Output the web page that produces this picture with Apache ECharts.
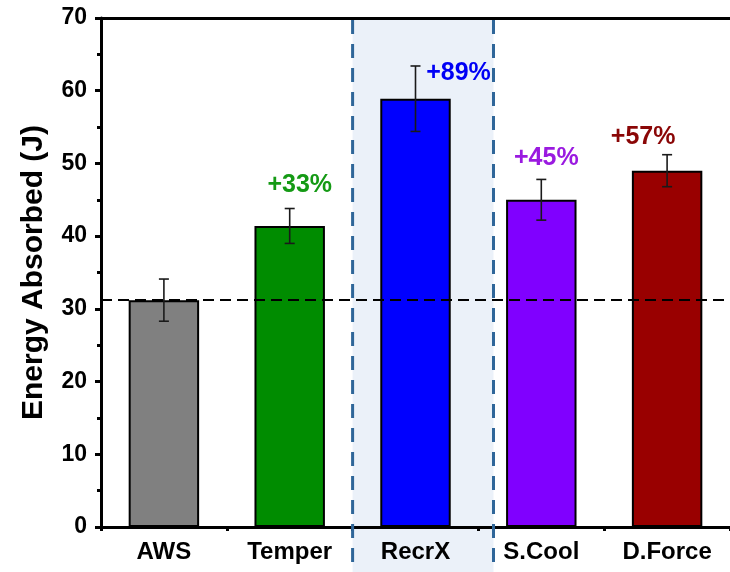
<!DOCTYPE html>
<html><head><meta charset="utf-8">
<script src="https://cdn.jsdelivr.net/npm/echarts@6/dist/echarts.min.js"></script>
<style>html,body{margin:0;padding:0;background:#fff}#c{width:730px;height:572px}</style>
</head><body><div id="c"></div>
<script>
const categories = ['AWS', 'Temper', 'RecrX', 'S.Cool', 'D.Force'];
const values = [31.2, 41.4, 58.9, 45.0, 49.0];
const errors = [2.9, 2.4, 4.5, 2.8, 2.2];
const percentLabels = ['', '+33%', '+89%', '+45%', '+57%'];
const baseline = 31.2;
const yTicks = [0, 10, 20, 30, 40, 50, 60, 70];

const barColors = ['#808080', '#008C00', '#0000FF', '#8000FF', '#990000'];
const labelColors = ['#000', '#159A15', '#0000F5', '#9A1AE0', '#8A0606'];
const labelOffsets = [[0, 0], [10, -23], [43, 7], [5, -21], [-24, -18]];
const shadeRange = [1.5, 2.62];

const FONT = '"Liberation Sans", Arial, sans-serif';
const chart = echarts.init(document.getElementById('c'), null, {renderer: 'canvas'});

const option = {
  backgroundColor: '#fff',
  animation: false,
  grid: {left: 101, right: 0, top: 18, bottom: 45, containLabel: false},
  xAxis: [
    {
      type: 'category', data: categories, position: 'bottom',
      axisLine: {lineStyle: {color: '#000', width: 3}},
      axisTick: {alignWithLabel: true, length: 6, lineStyle: {width: 3, color: '#000'}},
      axisLabel: {color: '#000', fontFamily: FONT, fontWeight: 'bold', fontSize: 24, margin: 13},
      splitLine: {show: false}
    },
    {
      type: 'category', data: categories, position: 'bottom',
      axisLine: {show: false},
      axisTick: {show: true, alignWithLabel: false, length: 4, lineStyle: {width: 3, color: '#000'}},
      axisLabel: {show: false}, splitLine: {show: false}
    },
    {
      type: 'category', data: categories, position: 'top',
      axisLine: {lineStyle: {color: '#000', width: 3}},
      axisTick: {show: false}, axisLabel: {show: false}, splitLine: {show: false}
    }
  ],
  yAxis: {
    type: 'value', min: 0, max: 70, interval: 10,
    name: 'Energy Absorbed (J)', nameLocation: 'middle', nameGap: 52, nameRotate: 90,
    nameTextStyle: {color: '#000', fontFamily: FONT, fontWeight: 'bold', fontSize: 30},
    axisLine: {show: true, lineStyle: {color: '#000', width: 3}},
    axisTick: {show: true, inside: false, length: 6, lineStyle: {width: 3, color: '#000'}},
    minorTick: {show: true, splitNumber: 2, length: 4, lineStyle: {width: 3, color: '#000'}},
    axisLabel: {color: '#000', fontFamily: FONT, fontWeight: 'bold', fontSize: 23, margin: 14,
      formatter: v => yTicks.includes(v) ? String(v) : ''},
    splitLine: {show: false}
  },
  series: [
    {
      type: 'bar', xAxisIndex: 0, barWidth: '56%', z: 3,
      data: values.map((v, i) => ({value: v, itemStyle: {color: barColors[i], borderColor: '#000', borderWidth: 2}})),
      markLine: {
        silent: true, symbol: ['none', 'none'], z: 4,
        label: {show: false},
        lineStyle: {color: '#000', type: [11, 6], width: 2},
        data: [{yAxis: baseline}]
      }
    },
    {
      type: 'custom', xAxisIndex: 0, z: 5,
      data: values.map((v, i) => [i, v - errors[i], v + errors[i]]),
      renderItem: function (params, api) {
        const lo = api.coord([api.value(0), api.value(1)]);
        const hi = api.coord([api.value(0), api.value(2)]);
        const cw = 5;
        const st = {stroke: '#1a1a1a', lineWidth: 1.6};
        return {type: 'group', children: [
          {type: 'line', shape: {x1: lo[0], y1: lo[1], x2: hi[0], y2: hi[1]}, style: st},
          {type: 'line', shape: {x1: lo[0] - cw, y1: lo[1], x2: lo[0] + cw, y2: lo[1]}, style: st},
          {type: 'line', shape: {x1: hi[0] - cw, y1: hi[1], x2: hi[0] + cw, y2: hi[1]}, style: st}
        ]};
      }
    },
    {
      type: 'scatter', xAxisIndex: 0, symbolSize: 0, z: 6,
      itemStyle: {opacity: 1},
      data: values.map((v, i) => ({
        value: [i, v + errors[i]],
        itemStyle: {opacity: 1},
        label: {
          show: percentLabels[i] !== '', formatter: percentLabels[i], position: 'inside',
          offset: labelOffsets[i], color: labelColors[i], opacity: 1,
          fontFamily: FONT, fontWeight: 'bold', fontSize: 25
        }
      }))
    }
  ]
};
chart.setOption(option);

// shaded highlight region around RecrX, positioned via axis conversion
const c0 = chart.convertToPixel({xAxisIndex: 0}, 0);
const c1 = chart.convertToPixel({xAxisIndex: 0}, 1);
const band = c1 - c0;
const xl = c0 + shadeRange[0] * band;
const xr = c0 + shadeRange[1] * band;
const yTop = chart.convertToPixel({yAxisIndex: 0}, 70);
const H = chart.getHeight();
chart.setOption({
  graphic: [
    {type: 'rect', z: 0, shape: {x: xl, y: yTop, width: xr - xl, height: H - yTop}, style: {fill: '#EBF1F9'}, silent: true},
    {type: 'line', z: 1, shape: {x1: xl, y1: yTop + 2, x2: xl, y2: H}, style: {stroke: '#2F6699', lineWidth: 3, lineDash: [14, 10]}, silent: true},
    {type: 'line', z: 1, shape: {x1: xr, y1: yTop + 2, x2: xr, y2: H}, style: {stroke: '#2F6699', lineWidth: 3, lineDash: [14, 10]}, silent: true}
  ]
});
</script></body></html>
